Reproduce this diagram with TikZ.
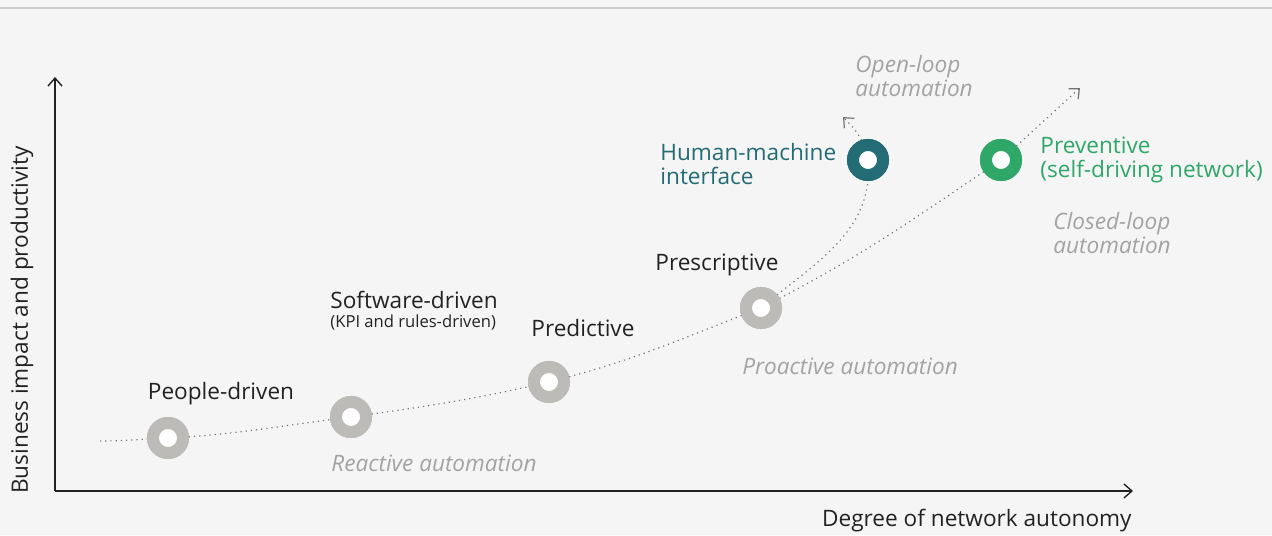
\documentclass[tikz,border=0pt]{standalone}
\usepackage{fontspec}
\setmainfont{Open Sans}
\usetikzlibrary{arrows.meta}
\definecolor{bgpaper}{HTML}{F5F5F5}
\definecolor{ringgray}{HTML}{BCBBB8}
\definecolor{hmiteal}{HTML}{236B75}
\definecolor{prevgreen}{HTML}{2EA769}
\definecolor{notegray}{HTML}{A3A3A3}
\definecolor{inkblack}{HTML}{222222}
\tikzset{
  ring/.style={circle,draw=ringgray,fill=white,line width=6pt,minimum size=15pt,inner sep=0pt},
  stage/.style={font=\fontsize{11.3}{12}\selectfont,text=inkblack,inner sep=0pt},
  note/.style={font=\fontsize{11.3}{12}\selectfont\itshape,text=notegray,inner sep=0pt,align=left},
  path/.style={draw=black!55,dotted,line width=0.6pt},
  axis/.style={draw=inkblack,line width=0.7pt,-{Straight Barb[length=4pt,width=7pt]}}
}
\begin{document}
\begin{tikzpicture}[x=0.5pt,y=0.5pt]
\fill[bgpaper] (0,0) rectangle (1272,535);
\useasboundingbox (0,0) rectangle (1272,535);
\draw[color=black!20,line width=1pt] (0,527) -- (1272,527);
% Drawing axes
\coordinate (origin) at (55,44);
\coordinate (ytop) at (55,458);
\coordinate (xend) at (1133,44);
\draw[axis] (origin) -- (ytop);
\draw[axis] (origin) -- (xend);
\node[stage,rotate=90] (ylabel) at (22,215) {Business impact and productivity};
\node[stage,anchor=east] (xlabel) at (1132,14) {Degree of network autonomy};
% Drawing the curve
\coordinate (start) at (100,94);
\coordinate (opentip) at (843,418);
\coordinate (closedtip) at (1080,447);
\node[ring] (people) at (168,97) {};
\node[ring] (software) at (351,118) {};
\node[ring] (predictive) at (549,153) {};
\node[ring] (prescriptive) at (761,227) {};
\node[ring,draw=hmiteal] (hmi) at (868,375) {};
\node[ring,draw=prevgreen] (preventive) at (1001,375) {};
\path[path] (start) to[out=0,in=182] (people.center)
  (people.center) to[out=3,in=187] (software.center)
  (software.center) to[out=8,in=193] (predictive.center)
  (predictive.center) to[out=14,in=201] (prescriptive.center)
  (prescriptive.center) to[out=27,in=214] (preventive.center)
  (prescriptive.center) to[out=40,in=-85] (hmi.center);
\draw[path,-{Straight Barb[length=4pt,width=7pt]}] (preventive.center) -- (closedtip);
\draw[path,-{Straight Barb[length=4pt,width=7pt]}] (hmi.center) to[out=100,in=-45] (opentip);
% Done with curve; drawing rings on top
\foreach \n/\c in {people/ringgray,software/ringgray,predictive/ringgray,prescriptive/ringgray,hmi/hmiteal,preventive/prevgreen}
  \node[ring,draw=\c] at (\n) {};
% Drawing labels
\node[stage] (lpeople) at (221,141) {People-driven};
\node[stage,anchor=west] (lsoftware) at (330,235) {Software-driven};
\node[stage,anchor=west,font=\fontsize{8.3}{10}\selectfont] (lkpi) at (330,212) {(KPI and rules-driven)};
\node[stage,anchor=west] (lpredictive) at (531,207) {Predictive};
\node[stage,anchor=west] (lprescriptive) at (655,270) {Prescriptive};
\node[stage,anchor=west,align=left,text=hmiteal] (lhmi) at (660,371) {Human-machine\\interface};
\node[stage,anchor=west,align=left,text=prevgreen] (lpreventive) at (1040,375) {Preventive\\(self-driving network)};
\node[note,anchor=west] (lopen) at (855,459) {Open-loop\\automation};
\node[note,anchor=west] (lclosed) at (1053,302) {Closed-loop\\automation};
\node[note,anchor=west] (lproactive) at (742,169) {Proactive automation};
\node[note,anchor=west] (lreactive) at (331,72) {Reactive automation};
\end{tikzpicture}
\end{document}
